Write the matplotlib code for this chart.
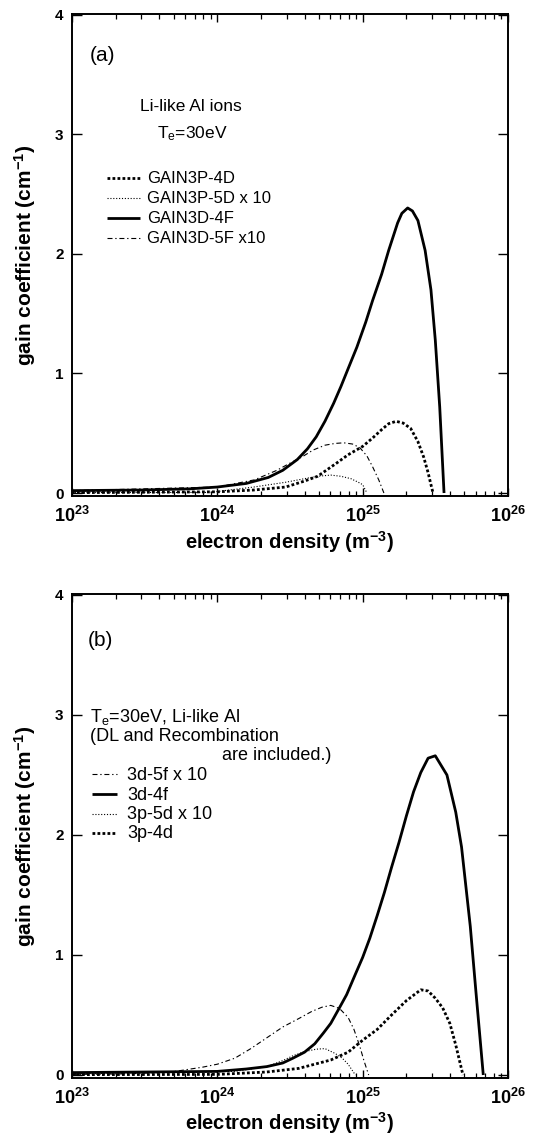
import matplotlib
matplotlib.use("Agg")
import matplotlib.pyplot as plt
from matplotlib.lines import Line2D
from matplotlib.ticker import FixedLocator, LogLocator, NullFormatter, FixedFormatter

plt.rcParams['font.family'] = ['Liberation Sans', 'DejaVu Sans']
plt.rcParams['mathtext.fontset'] = 'custom'
plt.rcParams['mathtext.rm'] = 'Liberation Sans'
plt.rcParams['mathtext.it'] = 'Liberation Sans:italic'
plt.rcParams['mathtext.bf'] = 'Liberation Sans:bold'

# ---------------- data: panel (a) ----------------
a_3d4f_n = [1e23, 3e23, 6.5e23, 1e24, 1.58e24, 2.24e24, 2.82e24, 3.55e24, 4.17e24, 4.79e24,
            5.5e24, 6.31e24, 7.08e24, 7.94e24, 9.12e24, 1.05e25, 1.17e25, 1.35e25, 1.51e25,
            1.74e25, 1.86e25, 2.04e25, 2.2e25, 2.4e25, 2.69e25, 2.95e25, 3.16e25, 3.39e25, 3.63e25]
a_3d4f_g = [0.02, 0.025, 0.035, 0.05, 0.08, 0.13, 0.19, 0.28, 0.37, 0.47,
            0.60, 0.75, 0.89, 1.04, 1.22, 1.43, 1.61, 1.83, 2.03,
            2.26, 2.34, 2.385, 2.36, 2.28, 2.03, 1.70, 1.28, 0.72, 0.0]

a_3p4d_n = [1e23, 1e24, 1.78e24, 2.95e24, 3.98e24, 4.9e24, 6.61e24, 7.94e24, 1e25, 1.17e25,
            1.35e25, 1.51e25, 1.7e25, 1.9e25, 2.14e25, 2.4e25, 2.63e25, 2.82e25, 2.95e25, 3.05e25]
a_3p4d_g = [0.003, 0.01, 0.025, 0.05, 0.10, 0.14, 0.25, 0.32, 0.39, 0.46,
            0.53, 0.58, 0.60, 0.585, 0.54, 0.43, 0.30, 0.17, 0.07, 0.0]

a_3p5d_n = [1e23, 8.9e23, 1.78e24, 2.95e24, 3.98e24, 4.9e24, 6.03e24, 7.08e24, 8.3e24, 9.33e24,
            1e25, 1.07e25]
a_3p5d_g = [0.003, 0.005, 0.05, 0.09, 0.12, 0.14, 0.15, 0.14, 0.12, 0.09,
            0.07, 0.0]

a_3d5f_n = [1e23, 1e24, 1.8e24, 2.57e24, 3.16e24, 3.8e24, 4.57e24, 5.5e24, 6.46e24, 7.41e24,
            8.5e24, 9.55e24, 1.07e25, 1.17e25, 1.29e25, 1.4e25]
a_3d5f_g = [0.02, 0.05, 0.11, 0.19, 0.25, 0.30, 0.36, 0.40, 0.415, 0.42,
            0.41, 0.38, 0.31, 0.22, 0.11, 0.0]

# ---------------- data: panel (b) ----------------
b_3d4f_n = [1e23, 1e24, 1.58e24, 2.19e24, 2.82e24, 3.31e24, 3.98e24, 4.68e24, 5.37e24, 6.03e24,
            6.92e24, 7.76e24, 8.91e24, 1e25, 1.12e25, 1.26e25, 1.41e25, 1.58e25, 1.78e25, 2.0e25,
            2.24e25, 2.51e25, 2.82e25, 3.16e25, 3.8e25, 4.37e25, 4.79e25, 5.5e25, 6.03e25, 6.76e25]
b_3d4f_g = [0.02, 0.03, 0.05, 0.07, 0.10, 0.14, 0.19, 0.26, 0.35, 0.43,
            0.56, 0.67, 0.84, 0.98, 1.14, 1.33, 1.52, 1.73, 1.94, 2.16,
            2.36, 2.52, 2.64, 2.66, 2.50, 2.19, 1.90, 1.24, 0.68, 0.0]

b_3p4d_n = [1e23, 1e24, 2.19e24, 3.63e24, 6.03e24, 7.94e24, 1e25, 1.26e25, 1.58e25, 2.0e25,
            2.51e25, 2.82e25, 3.16e25, 3.55e25, 3.98e25, 4.37e25, 4.68e25, 4.9e25]
b_3p4d_g = [0.003, 0.005, 0.025, 0.055, 0.125, 0.19, 0.29, 0.38, 0.50, 0.62,
            0.71, 0.70, 0.64, 0.56, 0.43, 0.25, 0.10, 0.0]

b_3p5d_n = [1e23, 1.32e24, 2.19e24, 2.82e24, 3.31e24, 3.98e24, 4.79e24, 5.5e24, 6.46e24, 7.24e24,
            7.94e24, 8.91e24]
b_3p5d_g = [0.01, 0.03, 0.07, 0.12, 0.16, 0.195, 0.215, 0.22, 0.18, 0.14,
            0.09, 0.0]

b_3d5f_n = [1e23, 2.5e23, 4.8e23, 7.9e23, 1e24, 1.32e24, 1.7e24, 2.19e24, 2.82e24, 3.63e24,
            4.47e24, 5.25e24, 6.03e24, 6.92e24, 7.94e24, 8.71e24, 9.55e24, 1.02e25, 1.1e25]
b_3d5f_g = [0.005, 0.01, 0.025, 0.065, 0.09, 0.14, 0.22, 0.31, 0.40, 0.47,
            0.53, 0.565, 0.58, 0.555, 0.48, 0.38, 0.24, 0.12, 0.0]

x_major = [1e23, 1e24, 1e25, 1e26]
x_labels = [r'$\mathbf{10^{23}}$', r'$\mathbf{10^{24}}$', r'$\mathbf{10^{25}}$', r'$\mathbf{10^{26}}$']
y_major = [0, 1, 2, 3, 4]
y_labels = ['0', '1', '2', '3', '4']

legend_a = ['GAIN3P-4D', 'GAIN3P-5D x 10', 'GAIN3D-4F', 'GAIN3D-5F x10']
legend_b = ['3d-5f x 10', '3d-4f', '3p-5d x 10', '3p-4d']

# ---------------- styles ----------------
ST_SOLID = dict(color='black', lw=2.0, linestyle='-', solid_capstyle='butt', solid_joinstyle='round')
ST_DENSE = dict(color='black', lw=2.0, linestyle=(0, (1.0, 0.8)), dash_capstyle='butt')
ST_SPARSE = dict(color='black', lw=0.8, linestyle=(0, (1.0, 1.6)), dash_capstyle='butt')
ST_DASHDOT = dict(color='black', lw=0.8, linestyle=(0, (4.5, 2.5, 1.2, 2.5)), dash_capstyle='butt')

fig = plt.figure(figsize=(5.48, 11.44), dpi=100)
ax_a = fig.add_axes([72/548, (1144-496)/1144, 436/548, 482/1144])
ax_b = fig.add_axes([72/548, (1144-1078)/1144, 436/548, 484/1144])


def style_axes(ax, xlab_y):
    ax.set_xscale('log')
    ax.set_xlim(1e23, 1e26)
    ax.set_ylim(-0.025, 4.008)
    ax.xaxis.set_major_locator(FixedLocator(x_major))
    ax.xaxis.set_major_formatter(FixedFormatter(x_labels))
    ax.xaxis.set_minor_locator(LogLocator(base=10, subs=[2, 3, 4, 5, 6, 7, 8, 9], numticks=20))
    ax.xaxis.set_minor_formatter(NullFormatter())
    ax.yaxis.set_major_locator(FixedLocator(y_major))
    ax.yaxis.set_major_formatter(FixedFormatter(y_labels))
    ax.tick_params(axis='x', which='major', direction='in', top=True, bottom=True,
                   length=6, width=1.0, pad=7, labelsize=13)
    ax.tick_params(axis='x', which='minor', direction='in', top=True, bottom=True,
                   length=3.5, width=0.9)
    ax.tick_params(axis='y', which='major', direction='in', left=True, right=True,
                   length=7, width=1.0, pad=6, labelsize=11)
    for lab in ax.get_yticklabels():
        lab.set_fontweight('bold')
    for sp in ax.spines.values():
        sp.set_linewidth(1.4)
    ax.set_xlabel(r'electron density (m$^{\mathbf{-3}}$)', fontsize=14.5, fontweight='bold')
    ax.xaxis.label.set_va('center')
    ax.xaxis.set_label_coords(0.5, xlab_y)
    ax.set_ylabel(r'gain coefficient (cm$^{\mathbf{-1}}$)', fontsize=15, fontweight='bold')
    ax.yaxis.label.set_va('center')
    ax.yaxis.set_label_coords(-0.108, 0.5)


style_axes(ax_a, -0.096)
style_axes(ax_b, -0.093)

# ---------------- panel (a) ----------------
ax_a.plot(a_3d5f_n, a_3d5f_g, **ST_DASHDOT)
ax_a.plot(a_3p5d_n, a_3p5d_g, **ST_SPARSE)
ax_a.plot(a_3p4d_n, a_3p4d_g, **ST_DENSE)
ax_a.plot(a_3d4f_n, a_3d4f_g, **ST_SOLID)

ax_a.text(0.041, 0.902, '(a)', transform=ax_a.transAxes, fontsize=15, va='baseline', ha='left')
ax_a.text(0.272, 0.798, 'Li-like Al ions', transform=ax_a.transAxes, fontsize=12.5,
          va='baseline', ha='center')
ax_a.text(0.276, 0.742, r'T$_\mathrm{e}$=30eV', transform=ax_a.transAxes, fontsize=12.5,
          va='baseline', ha='center')

styles_a = [ST_DENSE, ST_SPARSE, ST_SOLID, ST_DASHDOT]
rows_a_line = [0.660, 0.618, 0.577, 0.535]
rows_a_text = [0.649, 0.608, 0.566, 0.525]
for lab, st, yl, yt in zip(legend_a, styles_a, rows_a_line, rows_a_text):
    ax_a.add_line(Line2D([0.080, 0.156], [yl, yl], transform=ax_a.transAxes, **st))
    ax_a.text(0.172, yt, lab, transform=ax_a.transAxes, fontsize=12, va='baseline', ha='left')

# ---------------- panel (b) ----------------
ax_b.plot(b_3d5f_n, b_3d5f_g, **ST_DASHDOT)
ax_b.plot(b_3p5d_n, b_3p5d_g, **ST_SPARSE)
ax_b.plot(b_3p4d_n, b_3p4d_g, **ST_DENSE)
ax_b.plot(b_3d4f_n, b_3d4f_g, **ST_SOLID)

ax_b.text(0.037, 0.893, '(b)', transform=ax_b.transAxes, fontsize=15, va='baseline', ha='left')
ax_b.text(0.041, 0.736, r'T$_\mathrm{e}$=30eV, Li-like Al', transform=ax_b.transAxes,
          fontsize=13, va='baseline', ha='left')
ax_b.text(0.041, 0.697, '(DL and Recombination', transform=ax_b.transAxes,
          fontsize=13, va='baseline', ha='left')
ax_b.text(0.344, 0.656, 'are included.)', transform=ax_b.transAxes,
          fontsize=13, va='baseline', ha='left')

styles_b = [ST_DASHDOT, ST_SOLID, ST_SPARSE, ST_DENSE]
rows_b_line = [0.628, 0.587, 0.545, 0.506]
rows_b_text = [0.616, 0.574, 0.535, 0.496]
for lab, st, yl, yt in zip(legend_b, styles_b, rows_b_line, rows_b_text):
    ax_b.add_line(Line2D([0.046, 0.103], [yl, yl], transform=ax_b.transAxes, **st))
    ax_b.text(0.126, yt, lab, transform=ax_b.transAxes, fontsize=13, va='baseline', ha='left')

fig.savefig('out.png', dpi=100)
